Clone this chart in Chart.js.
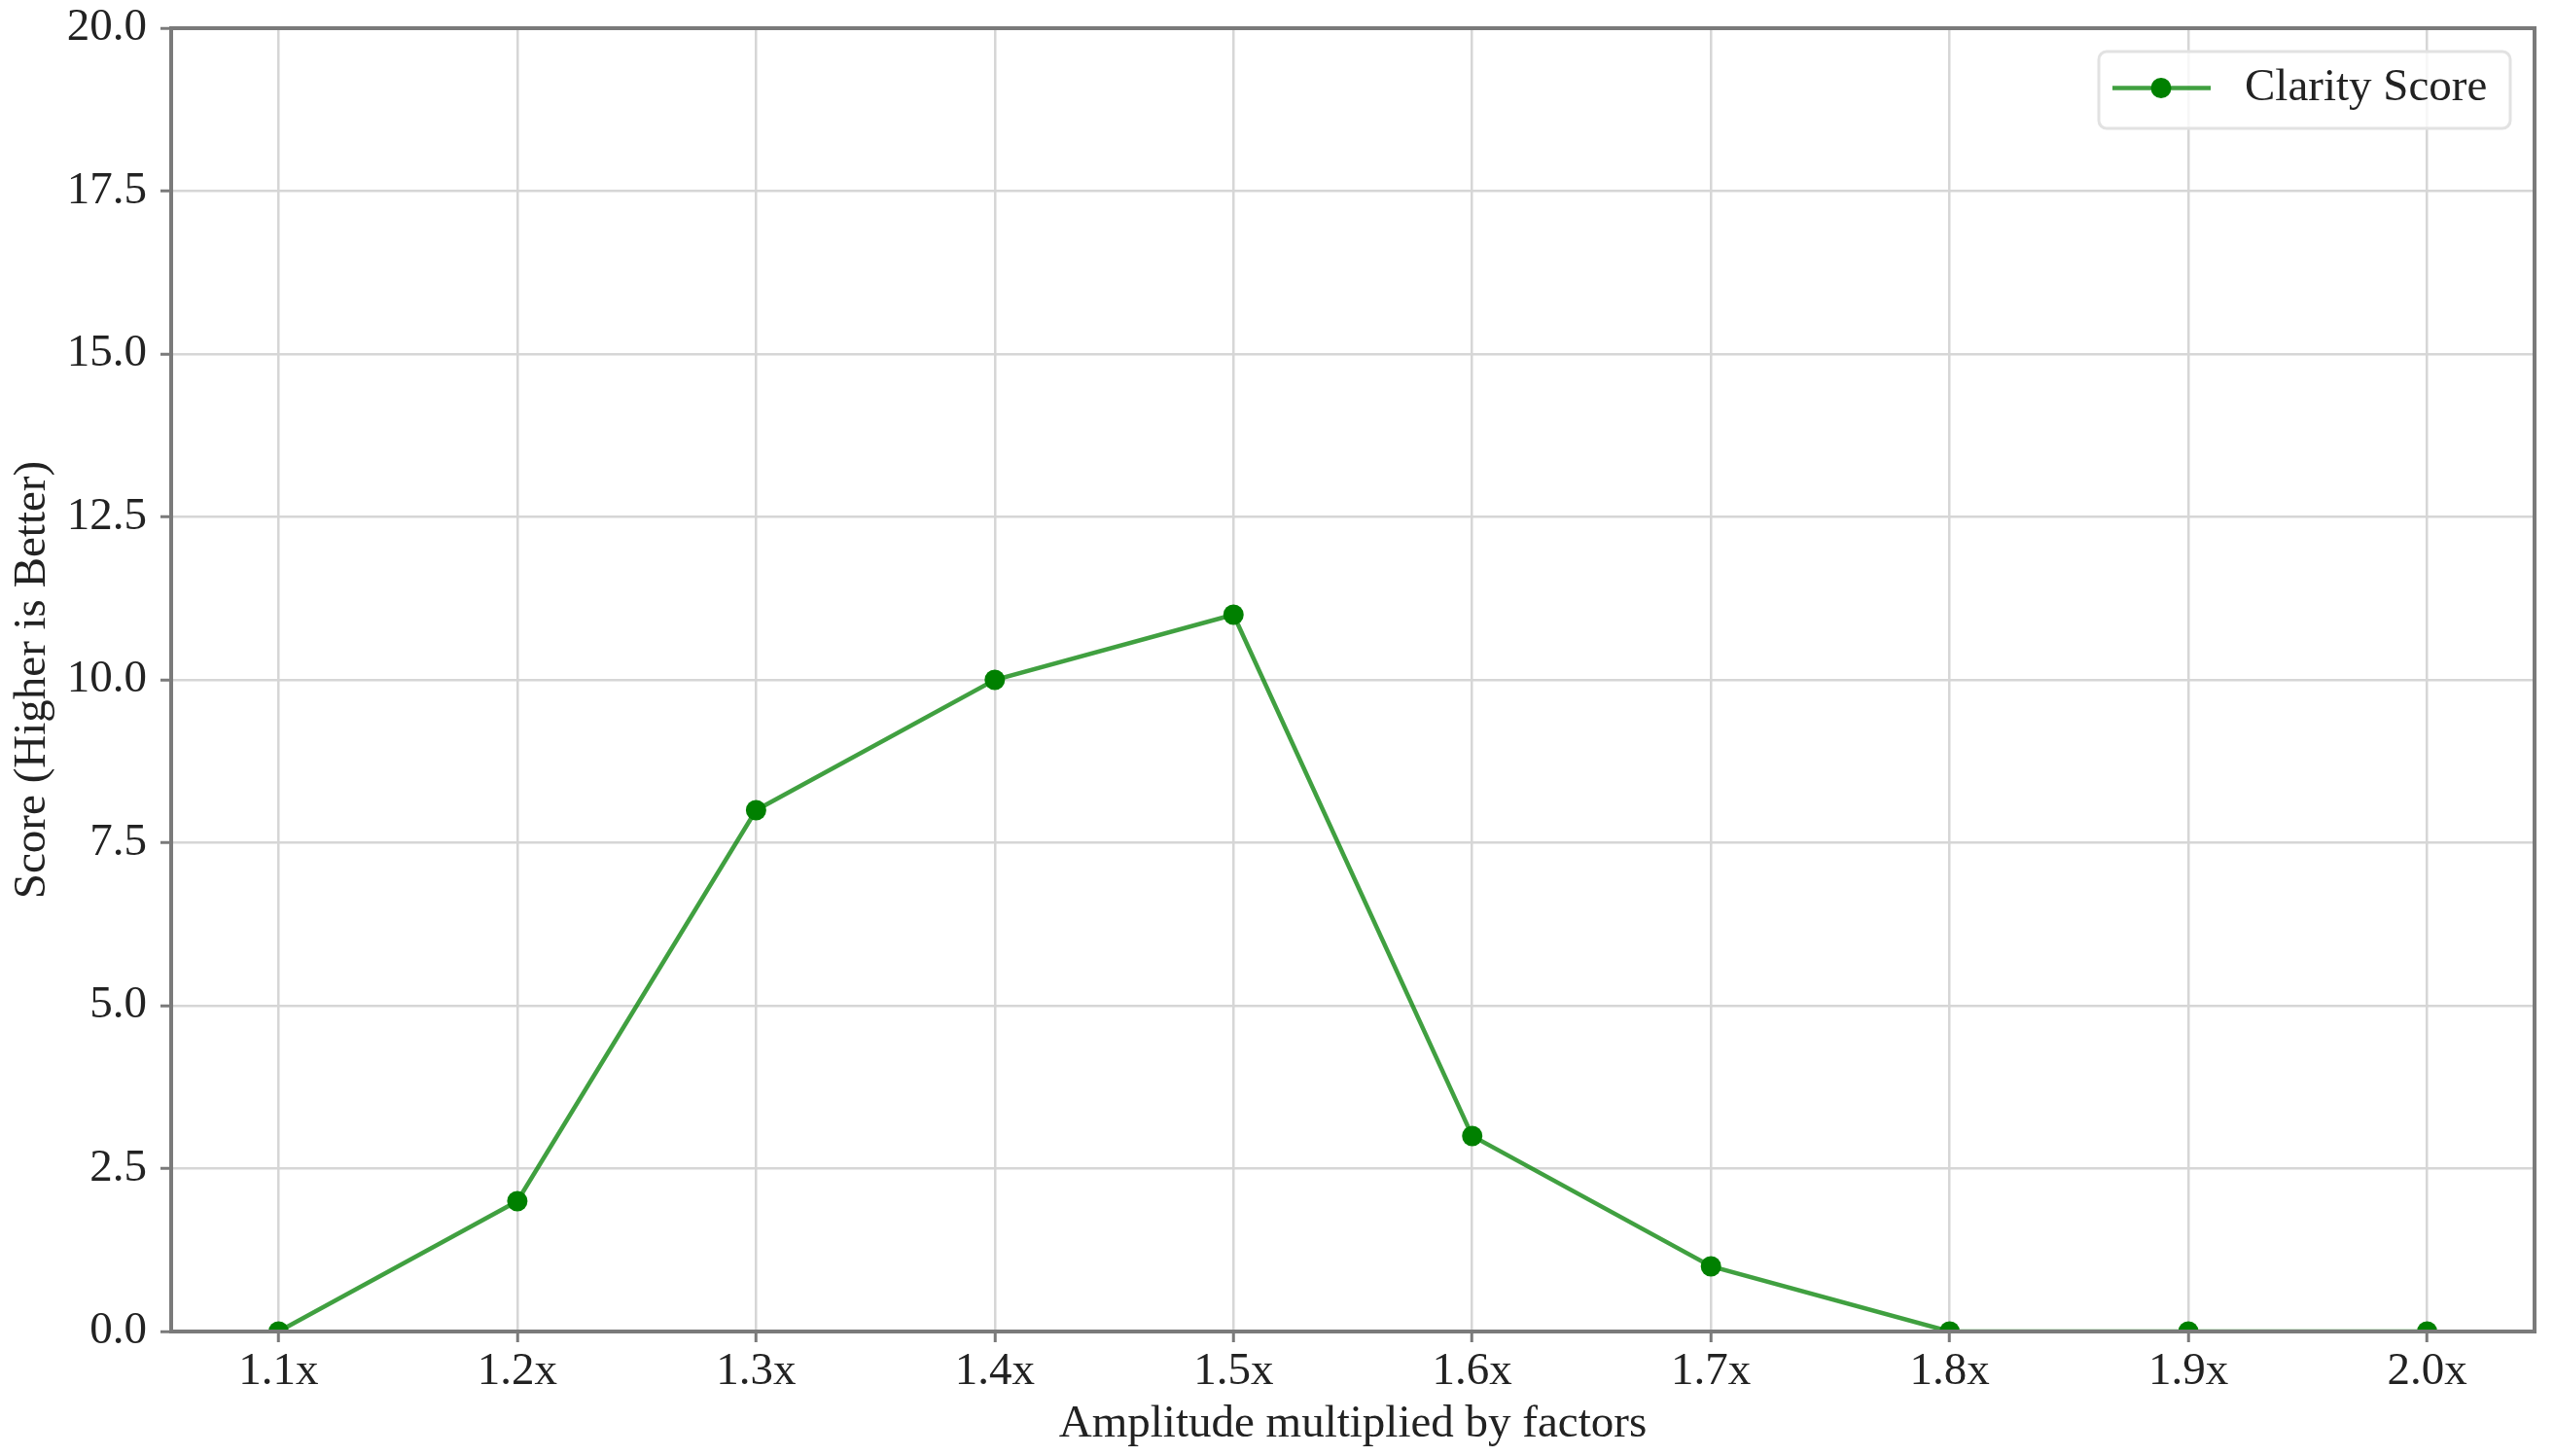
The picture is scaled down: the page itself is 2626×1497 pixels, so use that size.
<!DOCTYPE html>
<html>
<head>
<meta charset="utf-8">
<script src="https://cdn.jsdelivr.net/npm/chart.js@4.4.1/dist/chart.umd.min.js"></script>
<style>
  html, body { margin: 0; padding: 0; background: #ffffff; }
  #wrap { width: 2626px; height: 1497px; position: relative; }
</style>
</head>
<body>
<div id="wrap"><canvas id="c" width="2626" height="1497"></canvas></div>
<script>
const factorLabels = ['1.1x', '1.2x', '1.3x', '1.4x', '1.5x', '1.6x', '1.7x', '1.8x', '1.9x', '2.0x'];
const clarityScores = [0, 2, 8, 10, 11, 3, 1, 0, 0, 0];
const seriesName = 'Clarity Score';
const xAxisTitle = 'Amplitude multiplied by factors';
const yAxisTitle = 'Score (Higher is Better)';

const FONT = "'Liberation Serif', 'Times New Roman', serif";
const FS = 47;
const TEXT = '#222222';
const SPINE = '#7a7a7a';
const GRID = '#d6d6d6';
const LINE = 'rgba(0,128,0,0.75)';
const MARK = '#008000';

const points = clarityScores.map((v, i) => ({ x: i, y: v }));

const framePlugin = {
  id: 'frame',
  afterDatasetsDraw(chart) {
    const { ctx, chartArea: a } = chart;
    ctx.save();
    ctx.strokeStyle = SPINE;
    ctx.lineWidth = 4;
    ctx.strokeRect(a.left, a.top, a.right - a.left, a.bottom - a.top);
    ctx.restore();
  },
  afterDraw(chart) {
    const { ctx } = chart;
    const bx = 2158, by = 53, bw = 423, bh = 79, r = 8;
    ctx.save();
    ctx.beginPath();
    ctx.moveTo(bx + r, by);
    ctx.arcTo(bx + bw, by, bx + bw, by + bh, r);
    ctx.arcTo(bx + bw, by + bh, bx, by + bh, r);
    ctx.arcTo(bx, by + bh, bx, by, r);
    ctx.arcTo(bx, by, bx + bw, by, r);
    ctx.closePath();
    ctx.fillStyle = 'rgba(255,255,255,0.8)';
    ctx.fill();
    ctx.strokeStyle = '#e2e2e2';
    ctx.lineWidth = 3;
    ctx.stroke();
    const cy = by + bh / 2 - 2;
    ctx.strokeStyle = LINE;
    ctx.lineWidth = 4.5;
    ctx.beginPath();
    ctx.moveTo(2172, cy);
    ctx.lineTo(2273, cy);
    ctx.stroke();
    ctx.fillStyle = MARK;
    ctx.beginPath();
    ctx.arc(2222, cy, 10.5, 0, Math.PI * 2);
    ctx.fill();
    ctx.fillStyle = TEXT;
    ctx.font = FS + 'px ' + FONT;
    ctx.textAlign = 'left';
    ctx.textBaseline = 'middle';
    ctx.fillText(seriesName, 2308, cy);
    ctx.restore();
  }
};

new Chart(document.getElementById('c'), {
  type: 'line',
  data: {
    datasets: [{
      label: seriesName,
      data: points,
      borderColor: LINE,
      backgroundColor: MARK,
      borderWidth: 4.5,
      pointRadius: 10.5,
      pointBorderWidth: 0,
      pointBackgroundColor: MARK,
      pointBorderColor: MARK,
      tension: 0
    }]
  },
  options: {
    responsive: false,
    animation: false,
    devicePixelRatio: 1,
    layout: { padding: { top: 29, right: 20, left: 0, bottom: 0 } },
    plugins: {
      legend: { display: false },
      tooltip: { enabled: false }
    },
    scales: {
      x: {
        type: 'linear',
        min: -0.45,
        max: 9.45,
        afterBuildTicks(scale) {
          scale.ticks = factorLabels.map((_, i) => ({ value: i }));
        },
        afterFit(scale) {
          scale.height = 128;
          scale.paddingLeft = 0;
          scale.paddingRight = 0;
        },
        ticks: {
          callback: (v) => factorLabels[v] ?? '',
          font: { family: FONT, size: FS },
          color: TEXT,
          padding: 2,
          maxRotation: 0,
          autoSkip: false
        },
        grid: {
          color: GRID,
          lineWidth: 2.5,
          tickColor: SPINE,
          tickWidth: 3,
          tickLength: 11
        },
        border: { display: false },
        title: {
          display: true,
          text: xAxisTitle,
          font: { family: FONT, size: FS },
          color: TEXT,
          padding: { top: 0, bottom: 4 }
        }
      },
      y: {
        min: 0,
        max: 20,
        afterFit(scale) {
          scale.width = 176;
          scale.paddingTop = 0;
          scale.paddingBottom = 0;
        },
        ticks: {
          stepSize: 2.5,
          callback: (v) => Number(v).toFixed(1),
          font: { family: FONT, size: FS },
          color: TEXT,
          padding: 14
        },
        grid: {
          color: GRID,
          lineWidth: 2.5,
          tickColor: SPINE,
          tickWidth: 3,
          tickLength: 11
        },
        border: { display: false },
        title: {
          display: true,
          text: yAxisTitle,
          font: { family: FONT, size: FS },
          color: TEXT,
          padding: { top: 5, bottom: 0 }
        }
      }
    }
  },
  plugins: [framePlugin]
});
</script>
</body>
</html>
